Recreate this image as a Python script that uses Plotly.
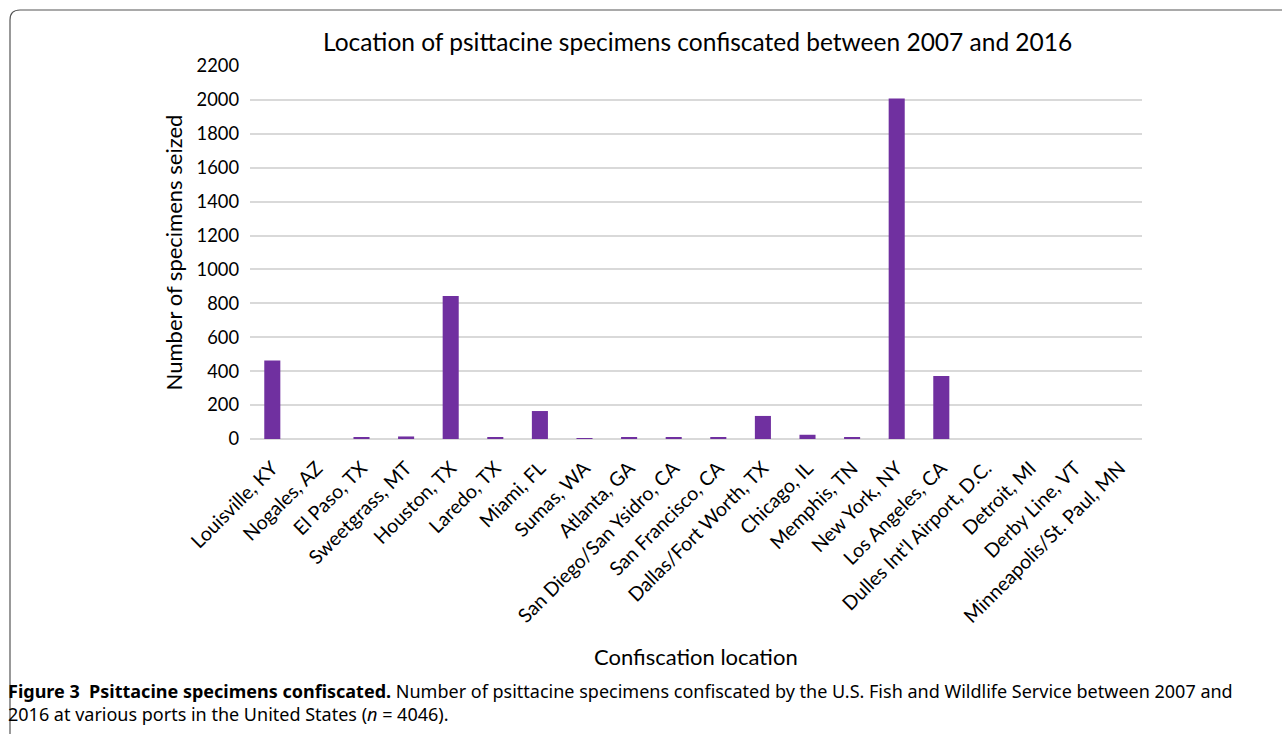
import plotly.graph_objects as go

locations = ["Louisville, KY", "Nogales, AZ", "El Paso, TX", "Sweetgrass, MT", "Houston, TX",
             "Laredo, TX", "Miami, FL", "Sumas, WA", "Atlanta, GA", "San Diego/San Ysidro, CA",
             "San Francisco, CA", "Dallas/Fort Worth, TX", "Chicago, IL", "Memphis, TN",
             "New York, NY", "Los Angeles, CA", "Dulles Int'l Airport, D.C.", "Detroit, MI",
             "Derby Line, VT", "Minneapolis/St. Paul, MN"]
specimens = [463, 0, 8, 15, 843, 6, 165, 3, 7, 12, 6, 136, 25, 12, 2008, 372, 0, 0, 0, 0]
y_ticks = list(range(0, 2201, 200))

# plot-area pixel geometry
W, H = 1282, 734
L, R, T, B = 250, 1142, 66, 439
pw, ph = R - L, B - T

def px(x):
    return (x - L) / pw

def py(y):
    return (B - y) / ph

BAR = "#7030A0"
FONT = "Lato"

fig = go.Figure(go.Bar(x=locations, y=specimens, marker=dict(color=BAR, line=dict(width=0))))

border = (f"M {px(10)} {py(760)} L {px(10)} {py(20)} Q {px(10)} {py(10)} {px(20)} {py(10)} "
          f"L {px(1300)} {py(10)}")

caption = ("<b>Figure 3&nbsp;&nbsp;Psittacine specimens confiscated.</b> Number of psittacine specimens "
           "confiscated by the U.S. Fish and Wildlife Service between 2007 and<br>"
           "2016 at various ports in the United States (<i>n</i> = 4046).")

fig.update_layout(
    width=W, height=H,
    margin=dict(l=L, r=W - R, t=T, b=H - B, pad=0),
    paper_bgcolor="white", plot_bgcolor="white",
    bargap=0.64,
    showlegend=False,
    font=dict(family=FONT, color="#000000"),
    xaxis=dict(tickangle=-45, tickfont=dict(size=19.5, family=FONT), showgrid=False,
               showline=False, ticks="", automargin=False, ticklabelstandoff=13),
    yaxis=dict(range=[0, 2200], tickvals=y_ticks, tickfont=dict(size=18.3, family=FONT),
               showgrid=True, gridcolor="#d9d9d9", gridwidth=1.5, zeroline=True,
               zerolinecolor="#d9d9d9", zerolinewidth=1.5, showline=False, ticks="",
               ticklabelstandoff=10, automargin=False,
               title=dict(text="Number of specimens seized", font=dict(size=22, family=FONT),
                          standoff=7)),
    shapes=[dict(type="path", path=border, xref="paper", yref="paper",
                 line=dict(color="#555555", width=1.2), layer="below")],
    annotations=[
        dict(text="Location of psittacine specimens confiscated between 2007 and 2016",
             x=px(697), y=py(42), xref="paper", yref="paper", showarrow=False,
             xanchor="center", yanchor="middle", font=dict(size=24.5, family=FONT)),
        dict(text="Confiscation location", x=px(696), y=py(656), xref="paper", yref="paper",
             showarrow=False, xanchor="center", yanchor="middle", font=dict(size=22, family=FONT)),
        dict(text=caption, x=px(6), y=py(702), xref="paper", yref="paper", showarrow=False,
             xanchor="left", yanchor="middle", align="left",
             font=dict(size=18, family="Noto Sans")),
    ],
)

fig.write_html("out.html", post_script="document.body.style.margin='0';",
               config={"displayModeBar": False})
